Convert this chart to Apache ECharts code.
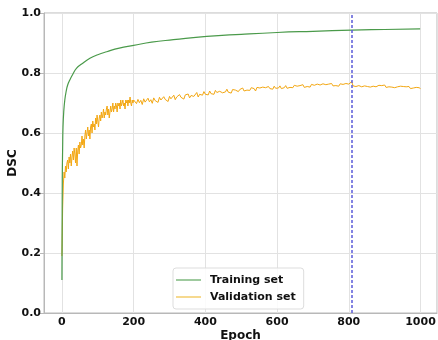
<!DOCTYPE html>
<html>
<head>
<meta charset="utf-8">
<script src="https://cdn.jsdelivr.net/npm/echarts@6/dist/echarts.min.js"></script>
<style>
html,body{margin:0;padding:0;background:#fff;}
#chart{width:438px;height:340px;}
</style>
</head>
<body>
<div id="chart"></div>
<script>
// ---- data ----
var trainEpochs = [0, 1, 2, 3, 5, 8, 12, 16, 22, 30, 41, 55, 78, 100, 125, 160, 200, 250, 311, 404, 500, 600, 700, 808, 900, 999];
var trainDSC    = [0.11, 0.45, 0.55, 0.62, 0.67, 0.71, 0.74, 0.76, 0.777, 0.795, 0.816, 0.83, 0.849, 0.861, 0.871, 0.883, 0.892, 0.903, 0.911, 0.922, 0.929, 0.935, 0.939, 0.943, 0.945, 0.947];

// validation, epochs 0..200 every 2 epochs
var valEarlyStart = 0, valEarlyStep = 2;
var valEarly = [
  0.19,0.35,0.43,0.47,0.45,0.49,0.47,0.50,0.51,0.48,
  0.52,0.50,0.53,0.49,0.52,0.54,0.51,0.55,0.53,0.50,
  0.55,0.49,0.54,0.56,0.53,0.57,0.55,0.56,0.59,0.56,
  0.58,0.55,0.59,0.61,0.58,0.60,0.62,0.59,0.61,0.58,
  0.62,0.63,0.60,0.64,0.62,0.63,0.61,0.65,0.63,0.66,
  0.64,0.62,0.65,0.66,0.64,0.67,0.65,0.66,0.68,0.65,
  0.67,0.66,0.68,0.69,0.66,0.68,0.65,0.67,0.69,0.67,
  0.68,0.70,0.67,0.69,0.68,0.70,0.69,0.67,0.70,0.69,
  0.70,0.68,0.71,0.69,0.70,0.71,0.69,0.70,0.68,0.71,
  0.70,0.71,0.69,0.71,0.70,0.72,0.70,0.69,0.71,0.70,
  0.71
];
// validation, epochs 204..1000 every 4 epochs
var valLateStart = 204, valLateStep = 4;
var valLate = [
  0.705,0.698,0.712,0.701,0.709,0.695,0.714,0.703,0.708,0.716,
  0.704,0.711,0.699,0.717,0.708,0.713,0.702,0.719,0.710,0.706,
  0.721,0.712,0.716,0.705,0.722,0.714,0.719,0.726,0.711,0.720,
  0.715,0.728,0.719,0.724,0.713,0.727,0.722,0.730,0.717,0.725,
  0.731,0.722,0.728,0.735,0.720,0.729,0.733,0.726,0.738,0.729,
  0.734,0.727,0.740,0.731,0.736,0.729,0.742,0.735,0.731,0.739,
  0.744,0.734,0.740,0.737,0.746,0.736,0.741,0.733,0.745,0.739,
  0.743,0.748,0.738,0.745,0.741,0.750,0.740,0.746,0.743,0.749,
  0.742,0.751,0.745,0.748,0.740,0.752,0.746,0.750,0.744,0.753,
  0.747,0.751,0.745,0.755,0.748,0.752,0.746,0.756,0.749,0.753,
  0.750,0.757,0.748,0.754,0.751,0.758,0.749,0.755,0.752,0.757,
  0.751,0.759,0.753,0.756,0.750,0.758,0.754,0.761,0.752,0.757,
  0.755,0.760,0.753,0.762,0.756,0.759,0.754,0.763,0.757,0.760,
  0.756,0.764,0.758,0.761,0.755,0.763,0.759,0.765,0.757,0.762,
  0.758,0.761,0.756,0.764,0.759,0.762,0.757,0.765,0.760,0.763,
  0.758,0.771,0.757,0.762,0.755,0.760,0.758,0.763,0.754,0.759,
  0.757,0.761,0.755,0.760,0.753,0.758,0.756,0.762,0.754,0.757,
  0.759,0.753,0.758,0.755,0.760,0.752,0.757,0.754,0.759,0.753,
  0.756,0.751,0.757,0.754,0.750,0.756,0.752,0.755,0.749,0.754,
  0.751,0.755,0.748,0.753,0.750,0.746,0.752,0.747,0.751,0.748
];
var bestEpoch = 809;
var xTicks = [0, 200, 400, 600, 800, 1000];
var seriesNames = ['Training set', 'Validation set'];

// ---- build ----
var trainData = trainEpochs.map(function (e, i) { return [e, trainDSC[i]]; });
var valData = [];
valEarly.forEach(function (v, i) { valData.push([valEarlyStart + i * valEarlyStep, v]); });
valLate.forEach(function (v, i) { valData.push([valLateStart + i * valLateStep, v]); });

var FONT = 'DejaVu Sans';
var chart = echarts.init(document.getElementById('chart'), null, {renderer: 'canvas'});
chart.setOption({
  animation: false,
  backgroundColor: '#ffffff',
  grid: {left: 44, right: 1, top: 13, bottom: 27, show: true, borderColor: '#b8b8b8', borderWidth: 1,
         containLabel: false, outerBoundsMode: 'none'},
  xAxis: {
    type: 'value', min: -50, max: 1046, splitNumber: 5,
    name: 'Epoch', nameLocation: 'middle', nameGap: 17, nameMoveOverlap: false,
    nameTextStyle: {fontFamily: FONT, fontWeight: 'bold', fontSize: 12, color: '#111'},
    axisLine: {show: true, onZero: false, lineStyle: {color: '#b8b8b8'}},
    axisTick: {show: false},
    splitLine: {show: true, lineStyle: {color: '#e2e2e2', width: 1}},
    axisLabel: {
      fontFamily: FONT, fontWeight: 'bold', fontSize: 11, color: '#111', margin: 4,
      showMinLabel: false, showMaxLabel: false,
      formatter: function (v) { return xTicks.indexOf(v) >= 0 ? String(v) : ''; }
    }
  },
  yAxis: {
    type: 'value', min: 0, max: 1, interval: 0.2,
    name: 'DSC', nameLocation: 'middle', nameGap: 25, nameRotate: 90, nameMoveOverlap: false,
    nameTextStyle: {fontFamily: FONT, fontWeight: 'bold', fontSize: 12, color: '#111'},
    axisLine: {show: true, onZero: false, lineStyle: {color: '#b8b8b8'}},
    axisTick: {show: true, length: 4, lineStyle: {color: '#b8b8b8'}},
    splitLine: {show: true, lineStyle: {color: '#e2e2e2', width: 1}},
    axisLabel: {
      fontFamily: FONT, fontWeight: 'bold', fontSize: 11, color: '#111', margin: 3,
      formatter: function (v) { return v.toFixed(1); }
    }
  },
  legend: {
    orient: 'vertical', left: 173, top: 268,
    data: [{name: seriesNames[0], icon: 'rect'}, {name: seriesNames[1], icon: 'rect'}],
    padding: [5, 8, 5, 3], itemGap: 3, itemWidth: 25, itemHeight: 1.5,
    backgroundColor: 'rgba(255,255,255,0.85)', borderColor: '#dddddd', borderWidth: 1, borderRadius: 3,
    textStyle: {fontFamily: FONT, fontWeight: 'bold', fontSize: 11, color: '#111', lineHeight: 14, padding: [0, 0, 0, 4]}
  },
  series: [
    {
      name: seriesNames[0], type: 'line', data: trainData, smooth: true,
      symbol: 'none', showSymbol: false, z: 3,
      lineStyle: {color: '#4a9a4a', width: 1.2},
      itemStyle: {color: '#7fb97f'}
    },
    {
      name: seriesNames[1], type: 'line', data: valData,
      symbol: 'none', showSymbol: false, z: 2,
      lineStyle: {color: '#f3a712', width: 1},
      itemStyle: {color: '#f3cc6a'},
      markLine: {
        silent: true, symbol: 'none', label: {show: false},
        lineStyle: {color: '#5b5bd9', type: [3, 2], width: 1.5},
        data: [{xAxis: bestEpoch}]
      }
    }
  ]
});
</script>
</body>
</html>
